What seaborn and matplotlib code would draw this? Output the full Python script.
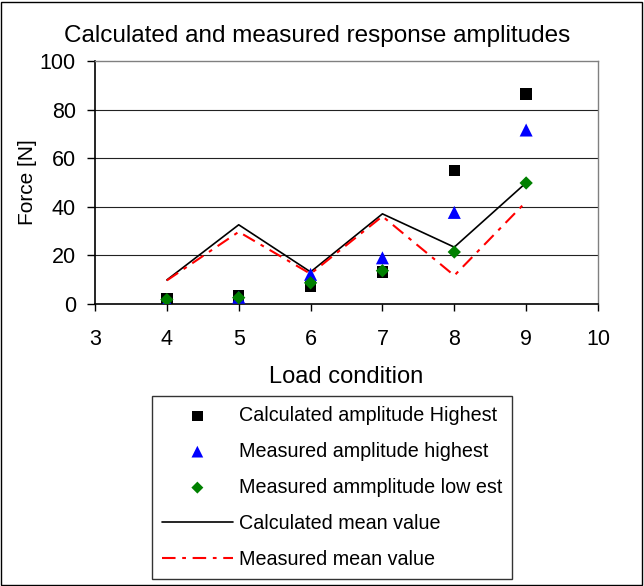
import matplotlib
matplotlib.use("Agg")
import matplotlib.pyplot as plt
import seaborn as sns
import pandas as pd
from matplotlib.patches import Rectangle

# Load conditions and response amplitudes [N]
load_condition = [4, 5, 6, 7, 8, 9]
calc_amp_highest = [2.1, 3.2, 7.3, 13.1, 54.9, 86.5]
meas_amp_highest = [1.0, 2.8, 12.2, 19.0, 37.7, 71.6]
meas_amp_lowest = [1.8, 2.6, 8.7, 13.7, 21.4, 49.8]
calc_mean = [9.9, 32.6, 13.2, 37.1, 23.4, 49.9]
meas_mean = [9.7, 29.7, 12.4, 36.1, 11.7, 42.1]

df = pd.DataFrame({
    "load": load_condition,
    "calc_high": calc_amp_highest,
    "meas_high": meas_amp_highest,
    "meas_low": meas_amp_lowest,
    "calc_mean": calc_mean,
    "meas_mean": meas_mean,
})

sns.set_style("white")
plt.rcParams["font.family"] = ["Liberation Sans", "DejaVu Sans"]
plt.rcParams.update({
    "text.color": "black",
    "axes.labelcolor": "black",
    "xtick.color": "black",
    "ytick.color": "black",
})

W, H = 644, 586
fig = plt.figure(figsize=(W / 100, H / 100), dpi=100)
ax = fig.add_axes([95 / W, 1 - 304 / H, (598 - 95) / W, (304 - 61) / H])

# Outer chart border
fig.patches.append(Rectangle((1 / W, 1 / H), 641 / W, 583 / H,
                             transform=fig.transFigure, fill=False,
                             edgecolor="black", linewidth=1.0))

for yv in [20, 40, 60, 80]:
    ax.axhline(yv, color="#222222", linewidth=0.8, zorder=0)

sns.lineplot(data=df, x="load", y="calc_mean", ax=ax, color="black",
             linewidth=1.2, label="Calculated mean value", zorder=2)
sns.lineplot(data=df, x="load", y="meas_mean", ax=ax, color="red",
             linewidth=1.5, label="Measured mean value", zorder=2)
ax.lines[-1].set_dashes([6.5, 3.2, 1.8, 3.2])

sns.scatterplot(data=df, x="load", y="calc_high", ax=ax, marker="s", color="black",
                s=68, edgecolor="none", label="Calculated amplitude Highest", zorder=3)
sns.scatterplot(data=df, x="load", y="meas_high", ax=ax, marker="^", color="blue",
                s=88, edgecolor="none", label="Measured amplitude highest", zorder=4)
sns.scatterplot(data=df, x="load", y="meas_low", ax=ax, marker="D", color="green",
                s=46, edgecolor="none", label="Measured ammplitude low est", zorder=5)

ax.set_xlim(3, 10)
ax.set_ylim(0, 100)
ax.set_xticks(range(3, 11))
ax.set_yticks(range(0, 101, 20))
ax.tick_params(axis="both", labelsize=15.5, direction="out", width=1,
               color="black", labelcolor="black", bottom=True, left=True)
ax.tick_params(axis="x", length=5, pad=13)
ax.tick_params(axis="y", length=5.8, pad=8)
ax.set_xlabel("Load condition", fontsize=17, labelpad=11.5, color="black")
ax.set_ylabel("Force [N]", fontsize=15, labelpad=2, color="black")
ax.set_title("Calculated and measured response amplitudes", fontsize=17.5,
             x=(317 - 95) / (598 - 95), pad=14, color="black")

for side in ["top", "right"]:
    ax.spines[side].set_color("#808080")
    ax.spines[side].set_linewidth(1.0)
for side in ["left", "bottom"]:
    ax.spines[side].set_color("black")
    ax.spines[side].set_linewidth(1.2)

handles, labels = ax.get_legend_handles_labels()
order = [2, 3, 4, 0, 1]
leg = ax.legend([handles[i] for i in order], [labels[i] for i in order],
                loc="upper left", bbox_to_anchor=(152 / W, 1 - 396 / H),
                bbox_transform=fig.transFigure, borderaxespad=0, frameon=True,
                fancybox=False, edgecolor="black", fontsize=14.2,
                handlelength=3.6, labelspacing=0.86, borderpad=0.5,
                handletextpad=0.3, markerscale=0.9, labelcolor="black")
leg.get_frame().set_linewidth(1.0)

fig.savefig("out.png", dpi=100)
